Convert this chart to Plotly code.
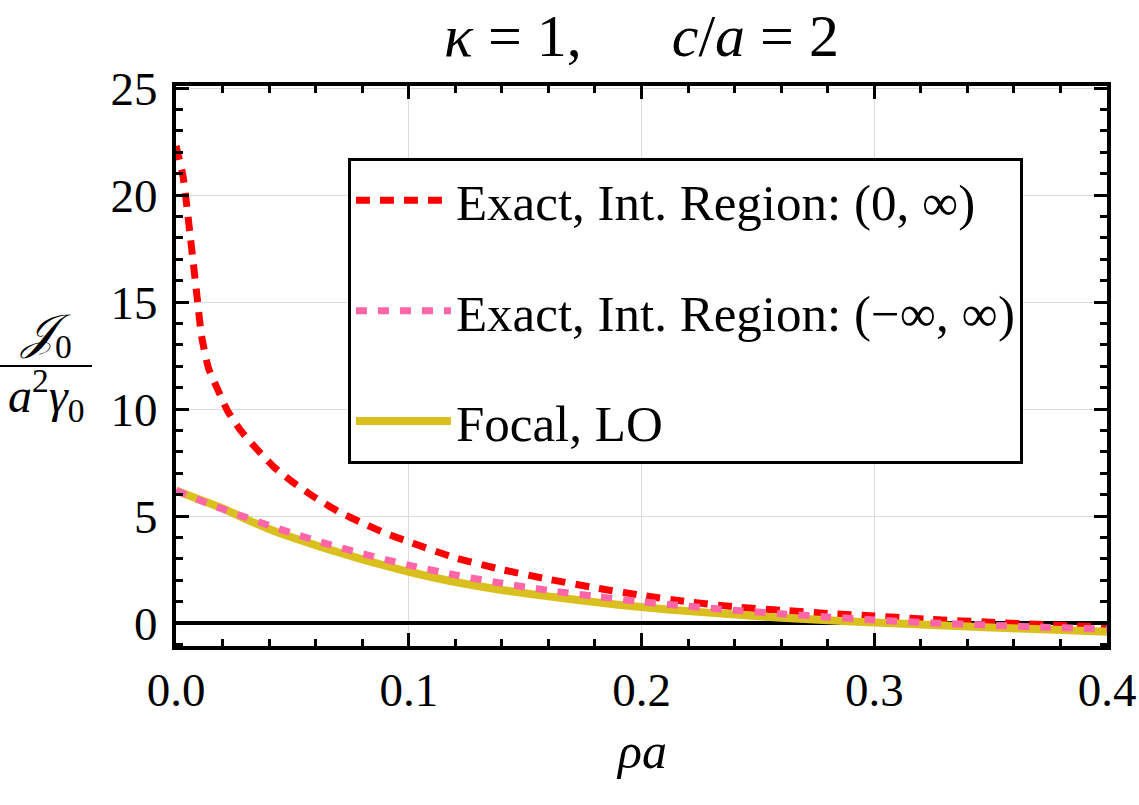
import plotly.graph_objects as go

# ---- data ----
rho_red = [0.0, 0.003, 0.006, 0.009, 0.011, 0.014, 0.018, 0.022, 0.028, 0.035, 0.042,
           0.05, 0.06, 0.07, 0.08, 0.09, 0.10, 0.12, 0.14, 0.16, 0.18, 0.20, 0.22,
           0.24, 0.26, 0.28, 0.30, 0.325, 0.35, 0.375, 0.40]
exact_half = [22.3, 20.9, 18.2, 15.3, 13.4, 11.9, 10.9, 9.95, 8.97, 8.1, 7.3,
              6.6, 5.85, 5.2, 4.68, 4.2, 3.8, 3.05, 2.5, 2.05, 1.65, 1.3, 1.0,
              0.76, 0.6, 0.45, 0.33, 0.17, 0.04, -0.08, -0.18]

rho = [0.0, 0.01, 0.02, 0.03, 0.04, 0.05, 0.06, 0.07, 0.08, 0.09, 0.10, 0.12, 0.14,
       0.16, 0.18, 0.20, 0.22, 0.24, 0.26, 0.28, 0.30, 0.325, 0.35, 0.375, 0.40]
exact_full = [6.2, 5.75, 5.33, 4.94, 4.56, 4.2, 3.86, 3.55, 3.25, 2.97, 2.71, 2.25, 1.86,
              1.53, 1.25, 1.0, 0.79, 0.6, 0.44, 0.29, 0.15, 0.01, -0.1, -0.2, -0.28]
focal_lo = [6.2, 5.78, 5.36, 4.86, 4.4, 4.0, 3.64, 3.3, 2.98, 2.68, 2.4, 1.92, 1.55,
            1.25, 0.98, 0.75, 0.56, 0.4, 0.25, 0.13, 0.03, -0.09, -0.2, -0.3, -0.4]

x_ticks = [0.0, 0.1, 0.2, 0.3, 0.4]
x_ticklabels = ["0.0", "0.1", "0.2", "0.3", "0.4"]
y_ticks = [0, 5, 10, 15, 20, 25]
y_ticklabels = ["0", "5", "10", "15", "20", "25"]

names = ["Exact, Int. Region: (0, ∞)",
         "Exact, Int. Region: (−∞, ∞)",
         "Focal, LO"]

SERIF = "Liberation Serif"

fig = go.Figure()
fig.add_trace(go.Scatter(x=rho_red, y=exact_half, mode="lines", name=names[0],
                         legendgroup="a", legendrank=1,
                         line=dict(color="#FF0000", width=7, dash="14px,10px",
                                   shape="spline", smoothing=0.5)))
fig.add_trace(go.Scatter(x=rho, y=focal_lo, mode="lines", name=names[2],
                         legendgroup="c", legendrank=3,
                         line=dict(color="#DAC01E", width=8, shape="spline", smoothing=0.8)))
fig.add_trace(go.Scatter(x=rho, y=exact_full, mode="lines", name=names[1],
                         legendgroup="b", legendrank=2,
                         line=dict(color="#FF66A8", width=7, dash="11px,11px",
                                   shape="spline", smoothing=0.8)))

axis_common = dict(
    showline=True, linecolor="black", linewidth=4, mirror="allticks",
    ticks="inside", ticklen=13, tickwidth=3, tickcolor="black",
    showgrid=True, gridcolor="#dcdcdc", gridwidth=1, automargin=False,
    tickfont=dict(family=SERIF, size=47, color="black"),
)

fig.update_xaxes(
    range=[0, 0.4], tickvals=x_ticks, ticktext=x_ticklabels,
    minor=dict(dtick=0.02, tick0=0, ticks="inside", ticklen=7, tickwidth=3,
               tickcolor="black", showgrid=False),
    zeroline=False, ticklabelstandoff=0,
    **axis_common)
fig.update_yaxes(
    range=[-1.07, 25.1], tickvals=y_ticks, ticktext=y_ticklabels,
    minor=dict(dtick=1, tick0=0, ticks="inside", ticklen=7, tickwidth=3,
               tickcolor="black", showgrid=False),
    zeroline=True, zerolinecolor="black", zerolinewidth=4,
    ticklabelstandoff=5,
    **axis_common)

fig.update_layout(
    width=1139, height=805,
    margin=dict(l=176, r=32, t=86, b=159, autoexpand=False),
    paper_bgcolor="white", plot_bgcolor="white",
    title=dict(text="<i>κ</i> = 1,\u2003\u2002<i>c</i>/<i>a</i> = 2",
               x=0.5, xref="paper", xanchor="center",
               y=0.957, yref="container", yanchor="middle",
               font=dict(family=SERIF, size=60, color="black")),
    legend=dict(x=0.1847, y=0.872, xanchor="left", yanchor="top",
                bordercolor="black", borderwidth=3, bgcolor="white",
                font=dict(family=SERIF, size=51, color="black"),
                traceorder="grouped", tracegroupgap=41, itemwidth=95),
    showlegend=True,
)

# x-axis label
fig.add_annotation(text="<i>ρa</i>", xref="paper", yref="paper",
                   x=0.5, y=-0.187, xanchor="center", yanchor="middle",
                   showarrow=False, font=dict(family=SERIF, size=50, color="black"))

# y-axis label as a stacked fraction
fig.add_annotation(text="<i>𝒥</i><sub>0</sub>", xref="paper", yref="paper",
                   x=-0.1396, y=0.555, xanchor="center", yanchor="middle",
                   showarrow=False, font=dict(family=SERIF, size=48, color="black"))
fig.add_annotation(text="<i>a</i><sup>2</sup><i>γ</i><sub>0</sub>", xref="paper", yref="paper",
                   x=-0.1396, y=0.448, xanchor="center", yanchor="middle",
                   showarrow=False, font=dict(family=SERIF, size=48, color="black"))
fig.add_shape(type="line", xref="paper", yref="paper",
              x0=-0.189, x1=-0.0902, y0=0.5, y1=0.5,
              line=dict(color="black", width=2))

fig.write_html("out.html")
